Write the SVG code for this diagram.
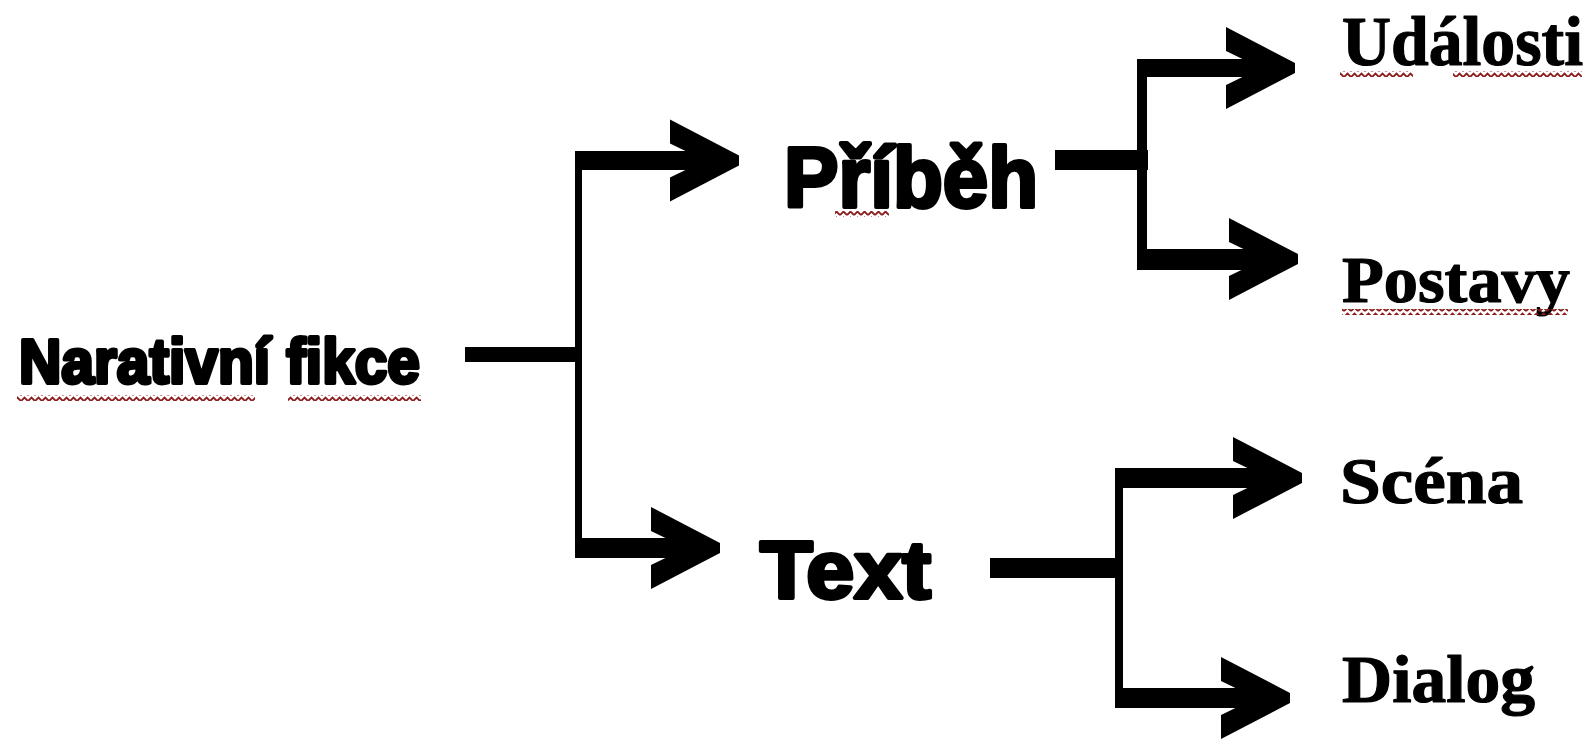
<svg xmlns="http://www.w3.org/2000/svg" width="1593" height="740" viewBox="0 0 1593 740">
  <style>
    .bar { fill: #000; }
    .heavy { font-family: "Liberation Sans", Arial, sans-serif; font-weight: bold; fill: #000; stroke: #000; stroke-width: 4; stroke-linejoin: round; }
    .serif { font-family: "Liberation Serif", "Times New Roman", serif; font-weight: bold; fill: #000; stroke: #000; stroke-width: 1.2; stroke-linejoin: round; }
    .wavy { fill: url(#squiggle); }
  </style>
  <defs>
    <!-- open chevron arrowhead, tip at the origin -->
    <path id="chevron" d="M-69,-41 L0,-5 L0,5 L-69,41 L-69,17 L-34,0 L-69,-17 Z" fill="#000"/>
    <!-- spell-check style zigzag underline -->
    <pattern id="squiggle" patternUnits="userSpaceOnUse" width="7" height="6">
      <path d="M0,5 L3.5,1.5 L7,5" fill="none" stroke="#8c1c1c" stroke-width="1.8"/>
    </pattern>
  </defs>
  <rect width="1593" height="740" fill="#fff"/>

  <g id="connectors">
    <!-- Narativní fikce to Příběh / Text -->
    <rect class="bar" x="465" y="347" width="117" height="15"/>
    <rect class="bar" x="575" y="151" width="7" height="407"/>
    <rect class="bar" x="575" y="151" width="140" height="19"/>
    <rect class="bar" x="575" y="538" width="122" height="20"/>
    <use href="#chevron" x="739" y="160.5"/>
    <use href="#chevron" x="720" y="548"/>

    <!-- Příběh to Události / Postavy -->
    <rect class="bar" x="1055" y="150" width="93" height="20"/>
    <rect class="bar" x="1137" y="59" width="10" height="211"/>
    <rect class="bar" x="1137" y="59" width="133" height="18"/>
    <rect class="bar" x="1137" y="249" width="136" height="21"/>
    <use href="#chevron" x="1295" y="68"/>
    <use href="#chevron" x="1298" y="259"/>

    <!-- Text to Scéna / Dialog -->
    <rect class="bar" x="990" y="558" width="130" height="20"/>
    <rect class="bar" x="1115" y="468" width="8" height="240"/>
    <rect class="bar" x="1115" y="468" width="162" height="20"/>
    <rect class="bar" x="1115" y="688" width="150" height="20"/>
    <use href="#chevron" x="1302" y="478"/>
    <use href="#chevron" x="1290" y="698"/>
  </g>

  <g id="node-narativni-fikce">
    <text class="heavy" x="19" y="383" font-size="63" textLength="401" lengthAdjust="spacingAndGlyphs">Narativní fikce</text>
    <rect class="wavy" x="17" y="395" width="238" height="6"/>
    <rect class="wavy" x="288" y="395" width="133" height="6"/>
  </g>

  <g id="node-pribeh">
    <text class="heavy" x="784" y="207" font-size="86" textLength="254" lengthAdjust="spacingAndGlyphs">Příběh</text>
    <rect class="wavy" x="835" y="211" width="54" height="6"/>
  </g>

  <g id="node-text">
    <text class="heavy" x="760" y="598" font-size="81" textLength="171" lengthAdjust="spacingAndGlyphs">Text</text>
  </g>

  <g id="node-udalosti">
    <text class="serif" x="1342" y="65" font-size="70" textLength="241" lengthAdjust="spacingAndGlyphs">Události</text>
    <rect class="wavy" x="1340" y="71" width="73" height="6"/>
    <rect class="wavy" x="1453" y="71" width="129" height="6"/>
  </g>

  <g id="node-postavy">
    <text class="serif" x="1342" y="302" font-size="66" textLength="228" lengthAdjust="spacingAndGlyphs">Postavy</text>
    <rect class="wavy" x="1342" y="309" width="226" height="6"/>
  </g>

  <g id="node-scena">
    <text class="serif" x="1340" y="503" font-size="65" textLength="183" lengthAdjust="spacingAndGlyphs">Scéna</text>
  </g>

  <g id="node-dialog">
    <text class="serif" x="1342" y="702" font-size="68" textLength="193" lengthAdjust="spacingAndGlyphs">Dialog</text>
  </g>
</svg>
